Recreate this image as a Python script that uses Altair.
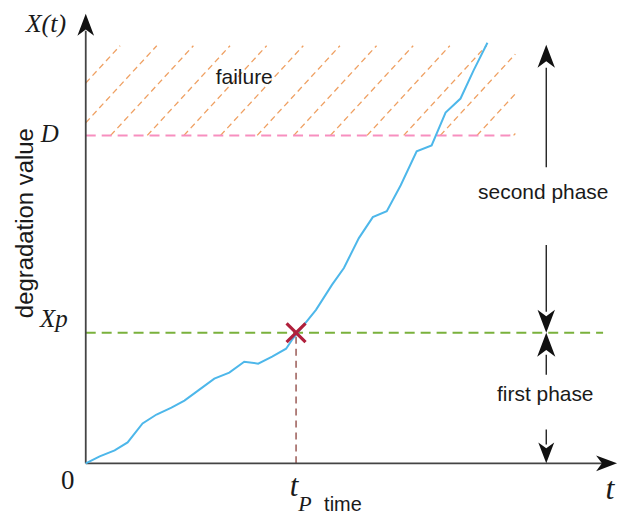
import altair as alt
import pandas as pd

# ---------------- data ----------------
# degradation path (time, degradation value), origin at (0, 0)
curve_t = [0, 14, 29, 42, 57, 71, 86, 99, 114, 129, 144, 159, 173, 187, 201, 207, 214,
           231, 247, 259, 264, 274, 288, 302, 316, 332, 347, 361, 376, 389, 403]
curve_v = [0, 7, 13, 21, 40, 49, 56, 63, 74, 85, 91, 102, 100, 107, 115, 124, 133,
           154, 179, 196, 206, 226, 247, 253, 279, 313, 319, 352, 366, 394, 422]

D_level = 329          # failure threshold D
Xp_level = 131         # phase change level Xp
tP = 211               # change time t_P
fail_top = 419         # top of hatched failure zone
fail_right = 431       # right end of failure zone / D line
xp_right = 519         # right end of Xp line
phase_x = 462          # x of phase arrows
x_max, y_max = 539, 454

# hatch pattern of the failure zone
hatch_first, hatch_step, hatch_run, hatch_count = 25.0, 36.75, 83.0, 15

# ---------------- derived tables ----------------
curve = pd.DataFrame({"t": curve_t, "v": curve_v})

rise = fail_top - D_level
segs = []
for k in range(-3, -3 + hatch_count):
    tb = hatch_first + hatch_step * k
    tt = tb + hatch_run
    x0, x1 = max(tb, 0.0), min(tt, fail_right)
    if x1 - x0 <= 0.5:
        continue
    y0 = D_level + (x0 - tb) * rise / hatch_run
    y1 = D_level + (x1 - tb) * rise / hatch_run
    segs.append({"x": x0, "y": y0, "x2": x1, "y2": y1})
hatch = pd.DataFrame(segs)

xs = alt.Scale(domain=[0, x_max], nice=False, zero=False)
ys = alt.Scale(domain=[0, y_max], nice=False, zero=False)


def rule_layer(df, **mark):
    return alt.Chart(df).mark_rule(**mark).encode(
        x=alt.X("x:Q", scale=xs, axis=None),
        y=alt.Y("y:Q", scale=ys, axis=None),
        x2="x2:Q", y2="y2:Q")


hatch_layer = rule_layer(hatch, color="#EFA062", strokeWidth=1.3, strokeDash=[6, 4])

d_line = rule_layer(pd.DataFrame({"x": [0], "x2": [fail_right], "y": [D_level], "y2": [D_level]}),
                    color="#F78FBF", strokeWidth=2, strokeDash=[10, 6])
xp_line = rule_layer(pd.DataFrame({"x": [0], "x2": [xp_right], "y": [Xp_level], "y2": [Xp_level]}),
                     color="#7AB13C", strokeWidth=2, strokeDash=[10, 6])
tp_line = rule_layer(pd.DataFrame({"x": [tP], "x2": [tP], "y": [0], "y2": [Xp_level]}),
                     color="#9A5A56", strokeWidth=1.5, strokeDash=[7, 5])

axes = rule_layer(pd.DataFrame({"x": [0, 0], "x2": [0, 519], "y": [0, 0], "y2": [434, 0]}),
                  color="#444444", strokeWidth=1.8)

phase_lines = rule_layer(pd.DataFrame({
    "x": [phase_x] * 4, "x2": [phase_x] * 4,
    "y": [297, 152, 89, 19], "y2": [397, 219, 109, 34]}),
    color="#111111", strokeWidth=1.3)

curve_layer = alt.Chart(curve).mark_line(color="#4DB7EA", strokeWidth=2).encode(
    x=alt.X("t:Q", scale=xs, axis=None), y=alt.Y("v:Q", scale=ys, axis=None))

marker = alt.Chart(pd.DataFrame({"t": [tP], "v": [Xp_level]})).mark_point(
    shape="M-1,-1L1,1M1,-1L-1,1", filled=False, size=361, color="#B0203C",
    strokeWidth=3.2, opacity=1).encode(
    x=alt.X("t:Q", scale=xs, axis=None), y=alt.Y("v:Q", scale=ys, axis=None))

# arrow heads: tip position, direction (deg clockwise from up), head length
heads = pd.DataFrame({
    "t": [0, 533, phase_x, phase_x, phase_x, phase_x],
    "v": [451, 0, 420, Xp_level, Xp_level, 0],
    "ang": [0, 90, 0, 180, 0, 180],
    "len": [22, 21, 23, 23, 24, 21]})
heads["size"] = 4 * heads["len"] ** 2
head_layer = alt.Chart(heads).mark_point(
    shape="M0,0L-0.38,1L0,0.72L0.38,1Z", filled=True, color="#111111", opacity=1,
    strokeWidth=0).encode(
    x=alt.X("t:Q", scale=xs, axis=None), y=alt.Y("v:Q", scale=ys, axis=None),
    angle=alt.Angle("ang:Q", scale=None), size=alt.Size("size:Q", scale=None))

# ---------------- text ----------------
serif_it = pd.DataFrame({
    "t": [-40, -36, -32, 209, 220, 526],
    "v": [433, 322, 137, -33, -48, -36],
    "label": ["X(t)", "D", "Xp", "t", "P", "t"],
    "fs": [26, 25, 25, 31, 22, 32]})
serif_up = pd.DataFrame({"t": [-18], "v": [-26], "label": ["0"], "fs": [27]})
sans = pd.DataFrame({
    "t": [159, 459, 461, 258],
    "v": [381, 265, 63, -48],
    "label": ["failure", "second phase", "first phase", "time"],
    "fs": [21, 21, 21, 20]})
vert = pd.DataFrame({"t": [-60], "v": [241], "label": ["degradation value"], "fs": [24]})


def text_layer(df, **mark):
    return alt.Chart(df).mark_text(color="#1a1a1a", align="center", **mark).encode(
        x=alt.X("t:Q", scale=xs, axis=None), y=alt.Y("v:Q", scale=ys, axis=None),
        text="label:N", size=alt.Size("fs:Q", scale=None))


t1 = text_layer(serif_it, font="Liberation Serif", fontStyle="italic", baseline="alphabetic")
t2 = text_layer(serif_up, font="Liberation Serif", baseline="alphabetic")
t3 = text_layer(sans, font="Liberation Sans", baseline="alphabetic")
t4 = text_layer(vert, font="Liberation Sans", baseline="middle", angle=270)

chart = alt.layer(
    hatch_layer, d_line, xp_line, tp_line, axes, phase_lines, curve_layer, marker,
    head_layer, t1, t2, t3, t4
).properties(
    width=x_max, height=y_max,
    padding={"left": 78, "top": 2, "right": 0, "bottom": 53},
    autosize=alt.AutoSizeParams(type="none"),
).configure_view(stroke=None)

chart.save("out.html", embed_options={"renderer": "svg", "actions": False})
